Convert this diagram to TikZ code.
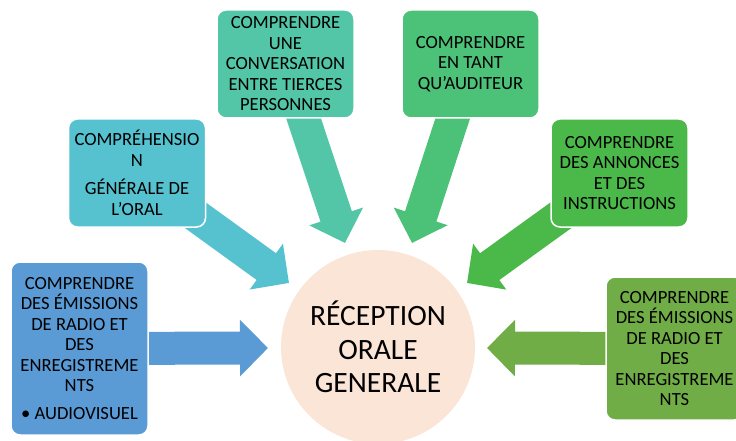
\documentclass[tikz,border=0pt]{standalone}
\usepackage{fontspec}
\setmainfont{Carlito}
\usepackage{tikz}
\usetikzlibrary{positioning,backgrounds,arrows.meta}

\definecolor{peche}{HTML}{FBE5D6}
\definecolor{bleu}{HTML}{5B9BD5}
\definecolor{turquoise}{HTML}{56C2CF}
\definecolor{menthe}{HTML}{52C6A7}
\definecolor{vert}{HTML}{4CC178}
\definecolor{vertvif}{HTML}{4BB84A}
\definecolor{olive}{HTML}{70AD47}

\begin{document}
\begin{tikzpicture}[x=1pt,y=-1pt,
    boite/.style={draw=white,line width=1.5pt,rounded corners=9pt,align=center,
      inner sep=0pt,minimum width=137pt,minimum height=108pt,text=black,
      font=\fontsize{18.6}{20.5}\selectfont},
    fleche/.style={line width=33pt,-{Triangle[width=55pt,length=28pt]}}]
        \path[use as bounding box,clip] (0,0) rectangle (736,441);
        \node[circle,fill=peche,minimum size=194pt,align=center,
          font=\fontsize{29.5}{33.5}\selectfont] (c) at (378,347) {RÉCEPTION\\ORALE\\GENERALE};
        \node[boite,fill=bleu,minimum height=173pt] (1) at (79.5,348.5)
          {COMPRENDRE\\DES ÉMISSIONS\\DE RADIO ET\\DES\\ENREGISTREME\\NTS\\[7pt]• AUDIOVISUEL};
        \node[boite,fill=turquoise] (2) at (137,173) {COMPRÉHENSIO\\N\\[8pt]GÉNÉRALE DE\\L’ORAL};
        \node[boite,fill=menthe] (3) at (285.5,64) {COMPRENDRE\\UNE\\CONVERSATION\\ENTRE TIERCES\\PERSONNES};
        \node[boite,fill=vert] (4) at (470.5,64) {COMPRENDRE\\EN TANT\\QU’AUDITEUR};
        \node[boite,fill=vertvif] (5) at (619.5,173) {COMPRENDRE\\DES ANNONCES\\ET DES\\INSTRUCTIONS};
        \node[boite,fill=olive,minimum height=143pt] (6) at (674.5,348.5)
          {COMPRENDRE\\DES ÉMISSIONS\\DE RADIO ET\\DES\\ENREGISTREME\\NTS};
        % pointes des fleches
        \coordinate (t1) at (268,348);
        \coordinate (t2) at (289,283);
        \coordinate (t3) at (345,243);
        \coordinate (t4) at (412,243);
        \coordinate (t5) at (467,283);
        \coordinate (t6) at (487,348);
        \begin{scope}[on background layer]
        \draw[fleche,bleu] (1.center) -- (t1);
        \draw[fleche,turquoise] (2.center) -- (t2);
        \draw[fleche,menthe] (3.center) -- (t3);
        \draw[fleche,vert] (4.center) -- (t4);
        \draw[fleche,vertvif] (5.center) -- (t5);
        \draw[fleche,olive] (6.center) -- (t6);
        \end{scope}
      \end{tikzpicture}
\end{document}
